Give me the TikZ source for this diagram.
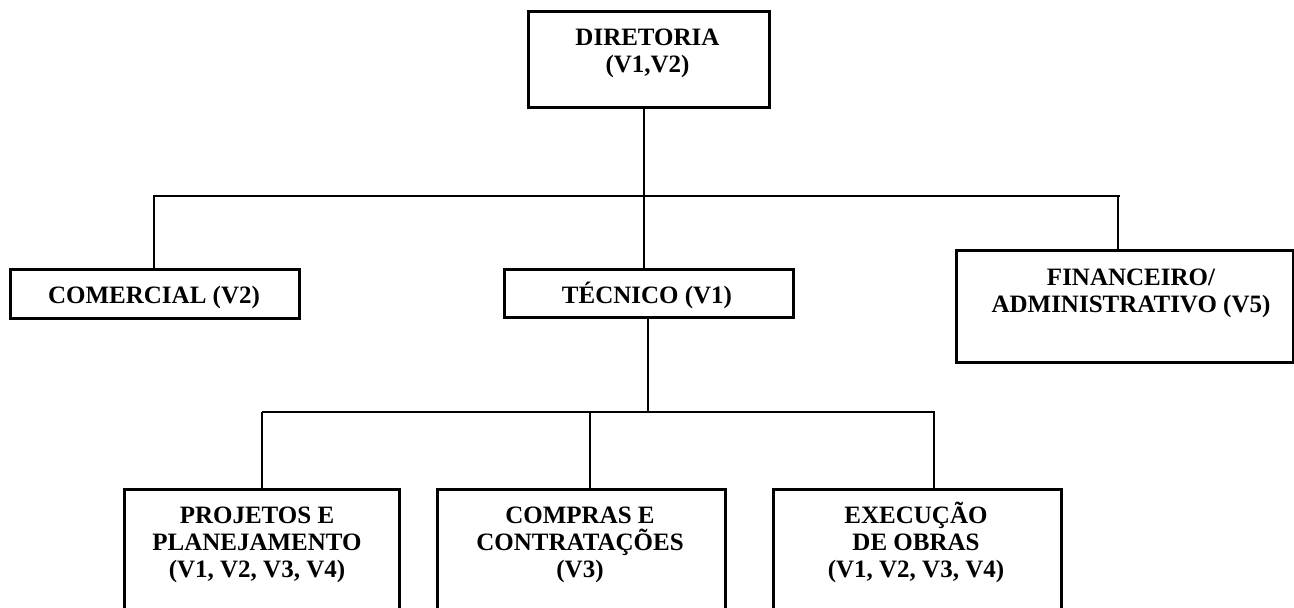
\documentclass[tikz,border=0pt]{standalone}
\usepackage{fontspec}
\setmainfont{Liberation Serif}
\begin{document}
\begin{tikzpicture}[x=1pt,y=-1pt,
  box/.style={draw,line width=2.5pt,rectangle,inner sep=0pt,anchor=north west},
  lbl/.style={inner sep=0pt,anchor=base,align=center,font=\bfseries\fontsize{25}{27}\selectfont},
  conn/.style={line width=2.1pt}]
\useasboundingbox (0,0) rectangle (1294,608);
\clip (0,0) rectangle (1294,608);
% boxes
\node[box,minimum width=241pt,minimum height=96pt] (dir) at (527,10) {};
\node[box,minimum width=289pt,minimum height=49pt] (com) at (9,268) {};
\node[box,minimum width=289pt,minimum height=48pt] (tec) at (503,268) {};
\node[box,minimum width=337pt,minimum height=112pt] (fin) at (955,249) {};
\node[box,minimum width=275pt,minimum height=140pt] (proj) at (123,488) {};
\node[box,minimum width=288pt,minimum height=140pt] (comp) at (436,488) {};
\node[box,minimum width=288pt,minimum height=140pt] (exe) at (772,488) {};
% labels (base anchor = baseline of last line)
\node[lbl] (tdir) at (647.5,72) {DIRETORIA\\(V1,V2)};
\node[lbl] (tcom) at (154,303) {COMERCIAL (V2)};
\node[lbl] (ttec) at (647,303) {TÉCNICO (V1)};
\node[lbl] (tfin) at (1131,312) {FINANCEIRO/\\ADMINISTRATIVO (V5)};
\node[lbl] (tproj) at (257,577) {PROJETOS E\\PLANEJAMENTO\\(V1, V2, V3, V4)};
\node[lbl] (tcomp) at (580,577) {COMPRAS E\\CONTRATAÇÕES\\(V3)};
\node[lbl] (texe) at (916,577) {EXECUÇÃO\\DE OBRAS\\(V1, V2, V3, V4)};
% junction coordinates
\coordinate (jd) at (644,196);
\coordinate (jl) at (153,196);
\coordinate (jr) at (1120,196);
\coordinate (jc) at (154,196);
\coordinate (jf) at (1118,196);
\coordinate (jt) at (648,412);
\coordinate (kl) at (262,412);
\coordinate (kr) at (935,412);
\coordinate (kp) at (262,412);
\coordinate (kc) at (590,412);
\coordinate (ke) at (934,412);
% connectors
\draw[conn] (dir.south -| jd) -- (jd);
\draw[conn] (jl) -- (jr);
\draw[conn] (jc) -- (com.north -| jc);
\draw[conn] (jd) -- (tec.north -| jd);
\draw[conn] (jf) -- (fin.north -| jf);
\draw[conn] (tec.south -| jt) -- (jt);
\draw[conn] (kl) -- (kr);
\draw[conn] (kp) -- (proj.north -| kp);
\draw[conn] (kc) -- (comp.north -| kc);
\draw[conn] (ke) -- (exe.north -| ke);
\end{tikzpicture}
\end{document}
